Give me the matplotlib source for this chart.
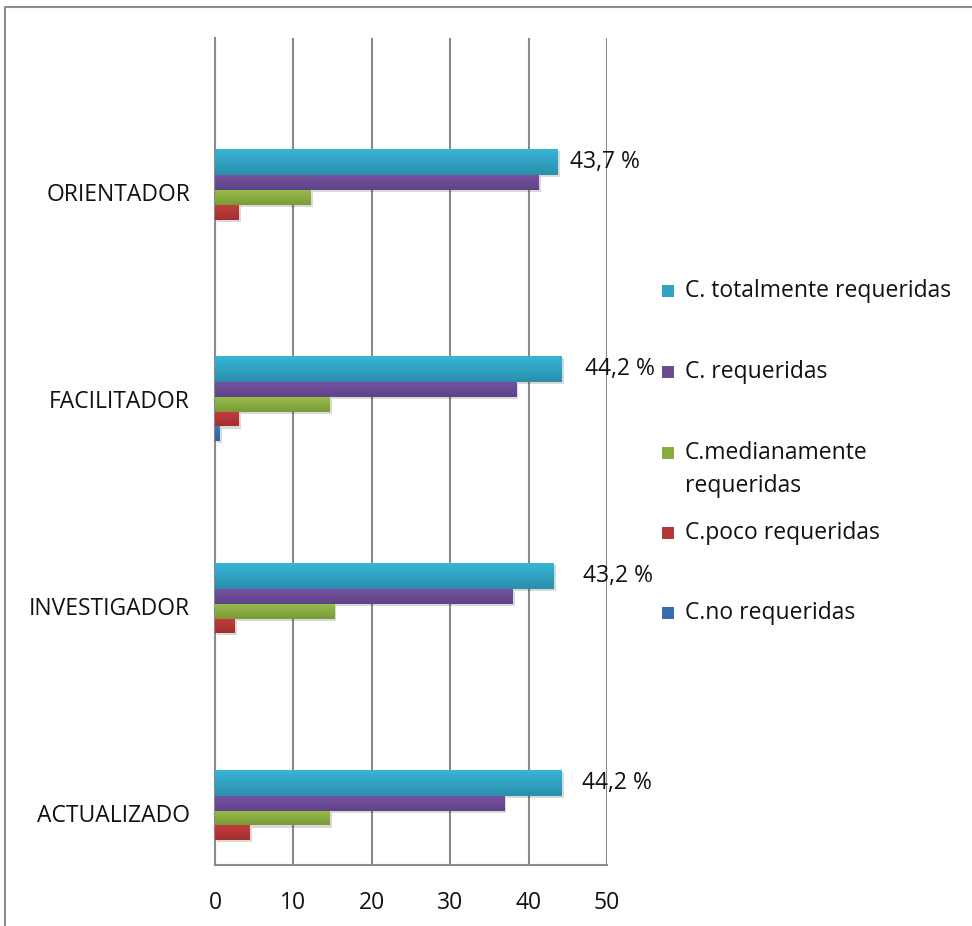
import matplotlib
matplotlib.use("Agg")
import matplotlib.pyplot as plt
import numpy as np
from matplotlib.colors import LinearSegmentedColormap
from matplotlib.patches import Rectangle
from matplotlib.lines import Line2D
import matplotlib.patheffects as pe

plt.rcParams['font.family'] = ['Open Sans', 'DejaVu Sans']

# ---- data ----
categories = ['ORIENTADOR', 'FACILITADOR', 'INVESTIGADOR', 'ACTUALIZADO']
series_names = ['C. totalmente requeridas', 'C. requeridas',
                'C.medianamente\nrequeridas', 'C.poco requeridas', 'C.no requeridas']
totalmente = [43.7, 44.2, 43.2, 44.2]
requeridas = [41.3, 38.4, 38.0, 36.9]
medianamente = [12.2, 14.6, 15.2, 14.6]
poco = [3.0, 3.0, 2.5, 4.4]
no_req = [0.0, 0.6, 0.0, 0.0]
xticks = [0, 10, 20, 30, 40, 50]

# ---- style / layout ----
top_colors = ['#38b6da', '#7552a0', '#97bb4b', '#c43d3e', '#3f78bd']
bot_colors = ['#2a8fab', '#5e4387', '#7a9b38', '#a32f2f', '#2f5f9c']
flat_colors = ['#31a4c6', '#6a4a93', '#88ab42', '#b63637', '#386cae']
bar_heights = [0.126, 0.0715, 0.0715, 0.0715, 0.068]
first_edge = -0.208
label_offsets_px = [12, 23, 29, 20]
FS = 16.5

W, H = 972, 926
fig = plt.figure(figsize=(W / 100, H / 100), dpi=100)
ax = fig.add_axes([215 / W, 1 - 865 / H, (607 - 215) / W, (865 - 38) / H])

values = [totalmente, requeridas, medianamente, poco, no_req]
ypos = np.arange(len(categories))

edge = first_edge
for s, vals in enumerate(values):
    bars = ax.barh(ypos + edge, vals, height=bar_heights[s], align='edge',
                   color=flat_colors[s], zorder=3, linewidth=0)
    cmap = LinearSegmentedColormap.from_list('g%d' % s, [bot_colors[s], top_colors[s]])
    for b in bars:
        b.set_path_effects([pe.SimplePatchShadow(offset=(1.5, -1.5), alpha=0.15, shadow_rgbFace='black'),
                            pe.Normal()])
        x0, y0 = b.get_x(), b.get_y()
        w, h = b.get_width(), b.get_height()
        if w <= 0:
            continue
        im = ax.imshow(np.linspace(0, 1, 50).reshape(-1, 1), cmap=cmap, origin='lower',
                       extent=(x0, x0 + w, y0 + h, y0), aspect='auto', zorder=4,
                       interpolation='bilinear')
        im.set_clip_path(b)
    edge += bar_heights[s]

# value labels on the top series
for i, v in enumerate(totalmente):
    yc = ypos[i] + first_edge + bar_heights[0] / 2
    ax.annotate(f"{v:.1f}".replace('.', ',') + ' %', xy=(v, yc),
                xytext=(label_offsets_px[i] * 0.72, 0), textcoords='offset points',
                va='center', ha='left', fontsize=FS, color='#111111',
                annotation_clip=False)

ax.set_xlim(0, 50)
ax.set_ylim(3.252, -0.745)
ax.set_xticks(xticks)
ax.set_xticklabels([str(t) for t in xticks])
ax.set_yticks(ypos)
ax.set_yticklabels(categories)
ax.tick_params(axis='both', length=0, labelsize=FS, colors='#111111')
ax.tick_params(axis='x', pad=19)
ax.tick_params(axis='y', pad=18)
ax.grid(axis='x', color='#8a8a8a', linewidth=1.5, zorder=0)
ax.set_axisbelow(True)
for sp in ['top', 'right']:
    ax.spines[sp].set_visible(False)
for sp in ['left', 'bottom']:
    ax.spines[sp].set_color('#8a8a8a')
    ax.spines[sp].set_linewidth(1.5)

# legend (manual layout)
leg_y = [291, 372, 453, 533, 613]
for s, name in enumerate(series_names):
    yc = leg_y[s]
    fig.patches.append(Rectangle((662 / W, 1 - (yc + 6) / H), 12 / W, 12 / H,
                                 transform=fig.transFigure, facecolor=flat_colors[s],
                                 edgecolor='none', figure=fig))
    for k, line in enumerate(name.split('\n')):
        fig.text(685 / W, 1 - (yc + k * 33) / H, line, ha='left', va='center',
                 fontsize=FS, color='#111111')

# outer frame
fc = '#8c8c8c'
fig.lines.append(Line2D([5 / W, 5 / W, 1.0], [0.0, 1 - 7 / H, 1 - 7 / H],
                        transform=fig.transFigure, color=fc, linewidth=1.5, figure=fig))

fig.savefig('out.png', dpi=100)
